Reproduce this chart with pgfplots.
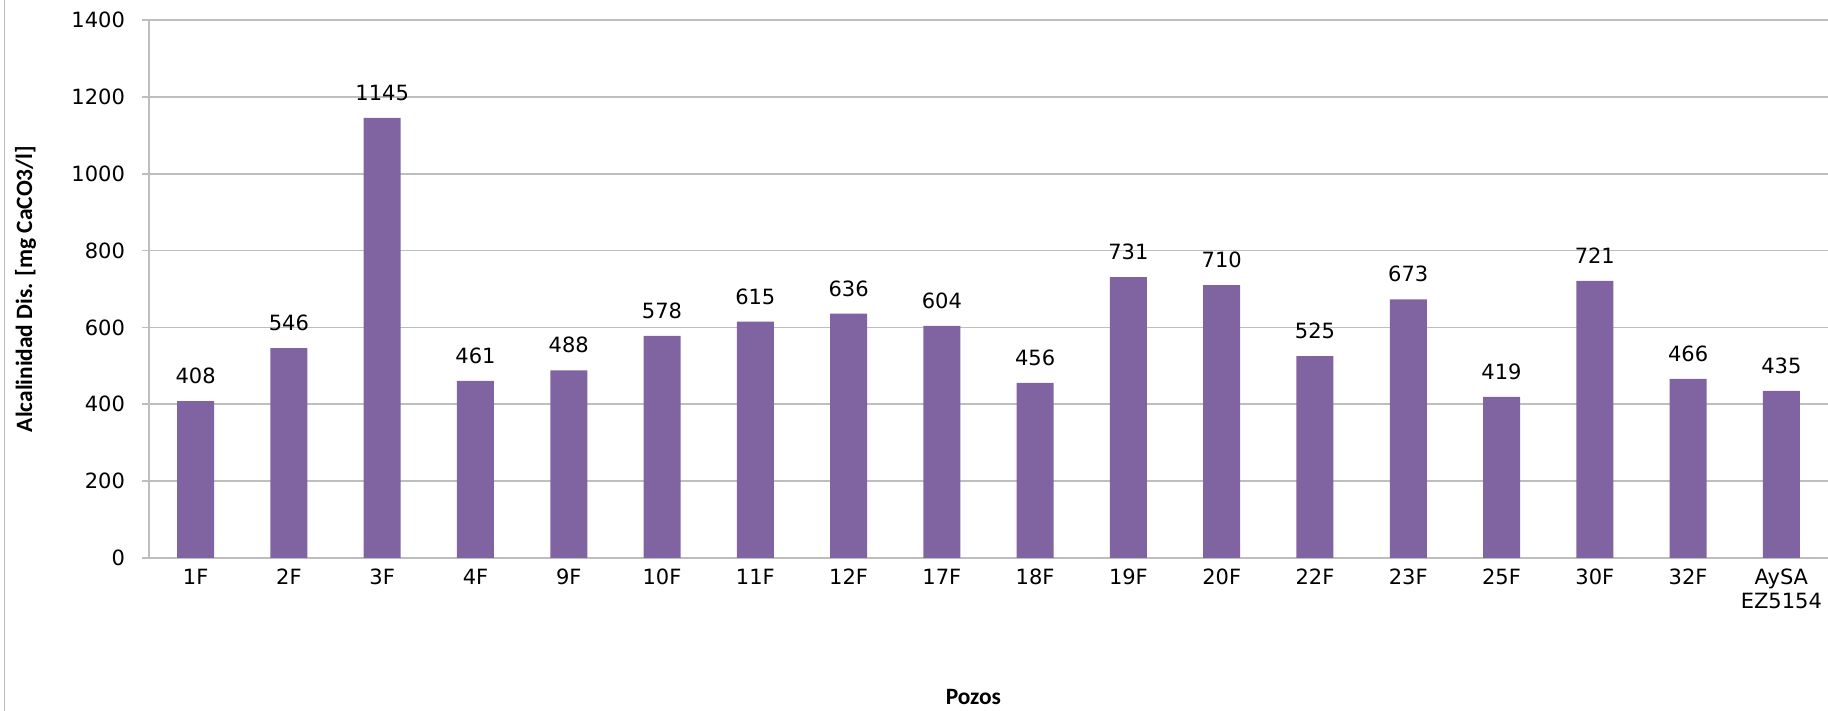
\documentclass[border=0pt]{standalone}
\usepackage{fontspec}
\setmainfont{DejaVu Sans}
\newfontfamily\carlito{Carlito}
\usepackage{pgfplots}
\pgfplotsset{compat=1.18}
\definecolor{barpurple}{HTML}{8064A2}
\definecolor{gridgray}{HTML}{BEBEBE}
\begin{document}
\begin{tikzpicture}
\useasboundingbox (0,0) rectangle (914pt,355.5pt);
\draw[gridgray, line width=0.8pt] (2.2pt,0) -- (2.2pt,355.5pt);
\begin{axis}[
  at={(74.5pt,76.5pt)}, anchor=south west,
  scale only axis,
  width=839.5pt, height=269pt,
  ybar, bar width=18.5pt,
  xmin=-0.5, xmax=17.5,
  ymin=0, ymax=1400,
  ytick={0,200,...,1400},
  xtick=data,
  xticklabels={1F,2F,3F,4F,9F,10F,11F,12F,17F,18F,19F,20F,22F,23F,25F,30F,32F,{AySA\\EZ5154}},
  axis x line=bottom, axis y line=left,
  axis line style={gridgray, line width=0.8pt, -},
  ymajorgrids, grid style={gridgray, line width=0.8pt},
  xtick style={draw=none},
  ytick style={gridgray, line width=0.8pt},
  tick align=outside, major tick length=3.5pt,
  /pgf/number format/.cd, 1000 sep={}, assume math mode=true,
  /pgfplots/.cd,
  ticklabel style={font=\fontsize{10.5}{12}\selectfont},
  yticklabel style={xshift=-5pt},
  xticklabel style={align=center, yshift=1.5pt},
  xlabel={\carlito\bfseries Pozos},
  ylabel={\carlito\bfseries Alcalinidad Dis. [mg CaCO3/l]},
  label style={font=\fontsize{11.7}{13}\selectfont},
  xlabel style={at={(axis description cs:0.491,-0.258)}, anchor=center},
  ylabel style={at={(axis description cs:-0.0735,0.5)}, anchor=center},
  nodes near coords,
  every node near coord/.append style={font=\fontsize{10.5}{12}\selectfont, black, anchor=base, inner sep=0pt, yshift=8.75pt},
]
\addplot[fill=barpurple, draw=none] coordinates {
(0,408) (1,546) (2,1145) (3,461) (4,488) (5,578) (6,615) (7,636) (8,604)
(9,456) (10,731) (11,710) (12,525) (13,673) (14,419) (15,721) (16,466) (17,435)
};
\end{axis}
\end{tikzpicture}
\end{document}
